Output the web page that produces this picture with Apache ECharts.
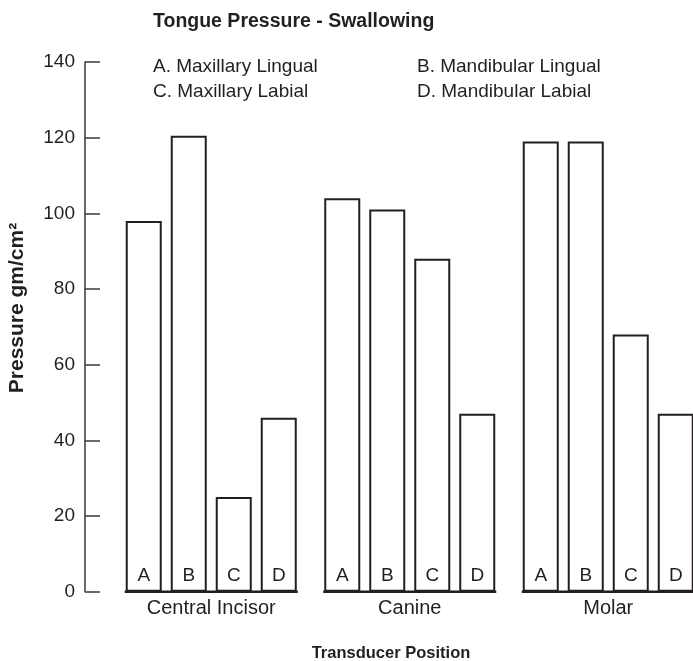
<!DOCTYPE html>
<html>
<head>
<meta charset="utf-8">
<script src="https://cdn.jsdelivr.net/npm/echarts@6/dist/echarts.min.js"></script>
<style>
  html, body { margin: 0; padding: 0; background: #fff; }
  #chart { width: 693px; height: 661px; }
</style>
</head>
<body>
<div id="chart"></div>
<script>
var positions = ['Central Incisor', 'Canine', 'Molar'];
var letters = ['A', 'B', 'C', 'D'];
var seriesNames = ['A. Maxillary Lingual', 'B. Mandibular Lingual', 'C. Maxillary Labial', 'D. Mandibular Labial'];
var maxLingual = [98, 104, 119];   // A
var manLingual = [120.5, 101, 119]; // B
var maxLabial = [25, 88, 68];      // C
var manLabial = [46, 47, 47];      // D
var yTicks = [0, 20, 40, 60, 80, 100, 120, 140];

var ink = '#231f20';
var font = '"Liberation Sans", Arial, sans-serif';
var barW = 36, gapPct = 25;
var groupW = 4 * barW + 3 * barW * gapPct / 100;

var values = [maxLingual, manLingual, maxLabial, manLabial];

var myChart = echarts.init(document.getElementById('chart'));

var series = values.map(function (arr, i) {
	return {
		name: seriesNames[i],
		type: 'bar',
		data: arr,
		barWidth: barW,
		barGap: gapPct + '%',
		itemStyle: { color: '#fff', borderColor: ink, borderWidth: 2 },
		label: {
			show: true,
			position: 'insideBottom',
			distance: 6,
			formatter: function () { return letters[i]; },
			color: ink,
			fontSize: 19,
			fontFamily: font
		},
		z: 2
	};
});

// baseline under each group of bars
series.push({
	type: 'custom',
	silent: true,
	z: 3,
	data: positions.map(function (p) { return [p, 0]; }),
	renderItem: function (params, api) {
		var c = api.coord([api.value(0), api.value(1)]);
		var half = groupW / 2 + 1;
		return {
			type: 'line',
			shape: { x1: c[0] - half, y1: c[1], x2: c[0] + half, y2: c[1] },
			style: { stroke: ink, lineWidth: 2.5 }
		};
	}
});

var legendBase = {
	orient: 'vertical',
	top: 52,
	icon: 'none',
	itemWidth: 0,
	itemHeight: 19,
	itemGap: 6,
	selectedMode: false,
	textStyle: { fontSize: 19, color: ink, fontFamily: font }
};

var option = {
	animation: false,
	textStyle: { fontFamily: font },
	title: [{
		text: 'Tongue Pressure - Swallowing',
		left: 148,
		top: 7,
		textStyle: { fontSize: 19.5, fontWeight: 'bold', color: ink, fontFamily: font }
	}, {
		text: 'Transducer Position',
		left: 386,
		textAlign: 'center',
		top: 640,
		textStyle: { fontSize: 16.5, fontWeight: 'bold', color: ink, fontFamily: font }
	}],
	legend: [
		Object.assign({}, legendBase, { data: [seriesNames[0], seriesNames[2]], left: 143 }),
		Object.assign({}, legendBase, { data: [seriesNames[1], seriesNames[3]], left: 407 })
	],
	graphic: [{
		type: 'text',
		x: 17,
		y: 308,
		rotation: Math.PI / 2,
		style: {
			text: 'Pressure gm/cm²',
			fill: ink,
			font: 'bold 21px ' + font,
			textAlign: 'center',
			textVerticalAlign: 'middle'
		}
	}],
	grid: { left: 112, width: 595.5, top: 62, bottom: 69.3, outerBoundsMode: 'none' },
	xAxis: {
		type: 'category',
		data: positions,
		axisLine: { show: false },
		axisTick: { show: false },
		axisLabel: { color: ink, fontSize: 20, margin: 7, fontFamily: font }
	},
	yAxis: {
		type: 'value',
		min: yTicks[0],
		max: yTicks[yTicks.length - 1],
		interval: 20,
		offset: 27,
		axisLine: { show: true, lineStyle: { color: '#3a3a3a', width: 1.5 } },
		axisTick: { show: true, inside: true, length: 15, lineStyle: { color: '#3a3a3a', width: 1.5 } },
		axisLabel: { color: ink, fontSize: 19, margin: 10, fontFamily: font },
		splitLine: { show: false }
	},
	series: series
};

myChart.setOption(option);
</script>
</body>
</html>
